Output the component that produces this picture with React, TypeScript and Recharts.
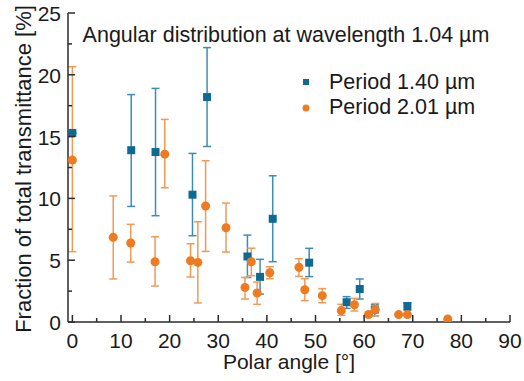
import React from 'react';
import {
  ScatterChart,
  Scatter,
  XAxis,
  YAxis,
  ErrorBar,
  Label,
} from 'recharts';

// Period 1.40 µm (blue squares)
const blueAngle = [0, 12.1, 17.1, 24.7, 27.7, 36.0, 38.6, 41.2, 48.7, 56.4, 59.1, 62.2, 68.9];
const blueValue = [15.3, 13.9, 13.75, 10.3, 18.2, 5.3, 3.65, 8.35, 4.8, 1.6, 2.67, 1.0, 1.29];
const blueLow = [15.3, 9.35, 8.6, 6.98, 14.2, 3.6, 2.26, 4.88, 3.67, 1.1, 1.86, 0.5, 0.95];
const blueHigh = [15.3, 18.4, 18.9, 13.64, 22.2, 7.03, 5.07, 11.83, 5.96, 2.05, 3.48, 1.4, 1.55];

// Period 2.01 µm (orange circles)
const orangeAngle = [0, 8.4, 12.0, 17.0, 19.0, 24.3, 25.8, 27.4, 31.6, 35.5, 36.8, 38.0, 40.6, 46.6, 47.8, 51.4, 55.3, 58.0, 60.9, 62.3, 67.1, 68.9, 77.2];
const orangeValue = [13.1, 6.85, 6.39, 4.88, 13.58, 4.96, 4.82, 9.38, 7.63, 2.8, 4.88, 2.35, 3.99, 4.42, 2.61, 2.13, 0.92, 1.4, 0.6, 1.0, 0.6, 0.6, 0.24];
const orangeLow = [5.69, 3.48, 4.85, 2.91, 10.86, 3.64, 1.54, 5.71, 5.66, 1.86, 3.75, 1.43, 3.5, 3.69, 1.73, 1.56, 0.54, 0.89, 0.45, 0.5, 0.6, 0.6, 0.24];
const orangeHigh = [20.65, 10.2, 7.9, 6.9, 16.39, 6.33, 8.11, 13.05, 9.62, 3.61, 5.97, 3.23, 4.47, 5.12, 3.5, 2.7, 1.43, 1.91, 0.8, 1.5, 0.6, 0.6, 0.24];

const xTicks = [0, 5, 10, 15, 20, 25, 30, 35, 40, 45, 50, 55, 60, 65, 70, 75, 80, 85, 90];
const yTicks = [0, 2.5, 5, 7.5, 10, 12.5, 15, 17.5, 20, 22.5, 25];

const blueData = blueAngle.map((x, i) => ({
  x,
  y: blueValue[i],
  err: [blueValue[i] - blueLow[i], blueHigh[i] - blueValue[i]],
}));
const orangeData = orangeAngle.map((x, i) => ({
  x,
  y: orangeValue[i],
  err: [orangeValue[i] - orangeLow[i], orangeHigh[i] - orangeValue[i]],
}));

const FONT = '"Liberation Sans", Arial, sans-serif';
const AXIS = '#2b2b2b';
const TXT = '#1a1a1a';
const BLUE = '#0f6a93';
const BLUE_ERR = '#3d8db3';
const ORANGE = '#ee7a22';
const ORANGE_ERR = '#f19a55';

const isMajorX = (v: number) => v % 10 === 0;
const isMajorY = (v: number) => v % 5 === 0;

const BottomTick = (props: any) => {
  const { x, y, payload } = props;
  const major = isMajorX(payload.value);
  return (
    <g>
      <line x1={x} x2={x} y1={y} y2={y - (major ? 7 : 4)} stroke={AXIS} strokeWidth={1.5} />
      {major && (
        <text x={x} y={y + 26} textAnchor="middle" fontSize={21} fill={TXT} fontFamily={FONT}>
          {payload.value}
        </text>
      )}
    </g>
  );
};

const TopTick = (props: any) => {
  const { x, y, payload } = props;
  const major = isMajorX(payload.value);
  return <line x1={x} x2={x} y1={y} y2={y + (major ? 7 : 4)} stroke={AXIS} strokeWidth={1.5} />;
};

const LeftTick = (props: any) => {
  const { x, y, payload } = props;
  const major = isMajorY(payload.value);
  return (
    <g>
      <line x1={x} x2={x + (major ? 7 : 4)} y1={y} y2={y} stroke={AXIS} strokeWidth={1.5} />
      {major && (
        <text x={x - 7} y={y + 8} textAnchor="end" fontSize={21} fill={TXT} fontFamily={FONT}>
          {payload.value}
        </text>
      )}
    </g>
  );
};

const RightTick = (props: any) => {
  const { x, y, payload } = props;
  const major = isMajorY(payload.value);
  return <line x1={x} x2={x - (major ? 7 : 4)} y1={y} y2={y} stroke={AXIS} strokeWidth={1.5} />;
};

const App: React.FC = () => {
  return (
    <div style={{ position: 'absolute', left: 0, top: 0, width: 524, height: 381, background: '#fff' }}>
      <ScatterChart width={524} height={381} margin={{ top: 13, right: 14, bottom: 19, left: 8 }}>
        <XAxis
          type="number"
          dataKey="x"
          xAxisId="main"
          domain={[-0.9, 90]}
          ticks={xTicks}
          interval={0}
          allowDataOverflow
          height={40}
          tickSize={0}
          tickMargin={0}
          tick={<BottomTick />}
          tickLine={false}
          axisLine={{ stroke: AXIS, strokeWidth: 1.5 }}
        >
          <Label
            content={() => (
              <text x={289} y={369} textAnchor="middle" fontSize={21} fill={TXT} fontFamily={FONT}>
                Polar angle [°]
              </text>
            )}
          />
        </XAxis>
        <XAxis
          type="number"
          dataKey="x"
          xAxisId="top"
          orientation="top"
          domain={[-0.9, 90]}
          ticks={xTicks}
          interval={0}
          allowDataOverflow
          height={0}
          tickSize={0}
          tickMargin={0}
          tick={<TopTick />}
          tickLine={false}
          axisLine={{ stroke: AXIS, strokeWidth: 1.5 }}
        />
        <YAxis
          type="number"
          dataKey="y"
          yAxisId="main"
          domain={[0, 25]}
          ticks={yTicks}
          interval={0}
          allowDataOverflow
          width={60}
          tickSize={0}
          tickMargin={0}
          tick={<LeftTick />}
          tickLine={false}
          axisLine={{ stroke: AXIS, strokeWidth: 1.5 }}
        >
          <Label
            content={() => (
              <text
                transform="translate(31,169) rotate(-90)"
                textAnchor="middle"
                fontSize={22}
                fill={TXT}
                fontFamily={FONT}
              >
                Fraction of total transmittance [%]
              </text>
            )}
          />
        </YAxis>
        <YAxis
          type="number"
          dataKey="y"
          yAxisId="right"
          orientation="right"
          domain={[0, 25]}
          ticks={yTicks}
          interval={0}
          allowDataOverflow
          width={0}
          tickSize={0}
          tickMargin={0}
          tick={<RightTick />}
          tickLine={false}
          axisLine={{ stroke: AXIS, strokeWidth: 1.5 }}
        />
        <Scatter
          name="Period 1.40 µm"
          data={blueData}
          xAxisId="main"
          yAxisId="main"
          fill={BLUE}
          shape="square"
          legendType="square"
          isAnimationActive={false}
        >
          <ErrorBar dataKey="err" direction="y" width={4} stroke={BLUE_ERR} strokeWidth={1.5} />
        </Scatter>
        <Scatter
          name="Period 2.01 µm"
          data={orangeData}
          xAxisId="main"
          yAxisId="main"
          fill={ORANGE}
          shape="circle"
          isAnimationActive={false}
        >
          <ErrorBar dataKey="err" direction="y" width={4} stroke={ORANGE_ERR} strokeWidth={1.5} />
        </Scatter>
      </ScatterChart>

      {/* title and legend */}
      <svg width={524} height={381} style={{ position: 'absolute', left: 0, top: 0, pointerEvents: 'none' }}>
        <text x={286} y={42} textAnchor="middle" fontSize={21.5} fill={TXT} fontFamily={FONT}>
          Angular distribution at wavelength 1.04 µm
        </text>
        <rect x={303} y={79} width={6} height={6} fill={BLUE} />
        <text x={329} y={89} fontSize={21.5} fill={TXT} fontFamily={FONT}>
          Period 1.40 µm
        </text>
        <circle cx={306} cy={108} r={3.5} fill={ORANGE} />
        <text x={329} y={114} fontSize={21.5} fill={TXT} fontFamily={FONT}>
          Period 2.01 µm
        </text>
      </svg>
    </div>
  );
};

export default App;
